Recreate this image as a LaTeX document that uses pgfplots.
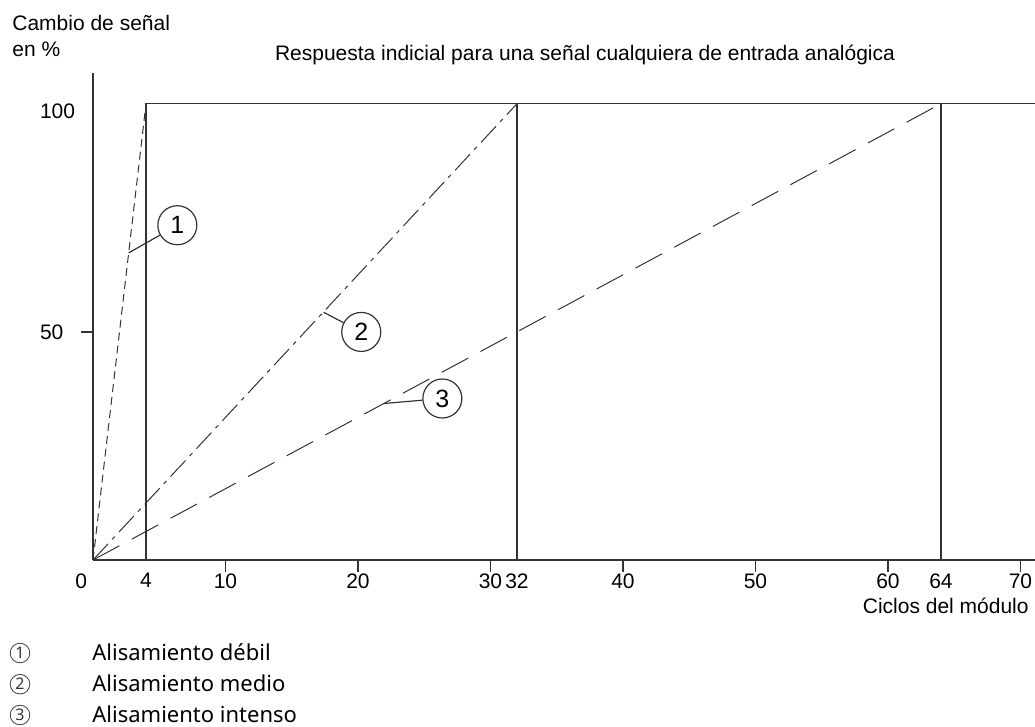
\documentclass[border=0pt]{standalone}
\usepackage{fontspec}
\setmainfont{Liberation Sans}
\newfontfamily\legendfont{Noto Sans}
\usepackage{pgfplots}
\pgfplotsset{compat=1.18}
\definecolor{ln}{gray}{0.2}
\begin{document}
\begin{tikzpicture}[font=\fontsize{10.5bp}{12.6bp}\selectfont]
\useasboundingbox (0,0) rectangle (517.5bp,363.5bp);
\begin{axis}[
  at={(46.5bp,83.5bp)}, anchor=south west,
  scale only axis, width=471bp, height=243.65bp,
  xmin=0, xmax=71.1, ymin=0, ymax=106.8,
  axis lines*=left,
  axis line style={line width=0.65pt, ln},
  xtick={10,20,...,70}, ytick={50},
  extra x ticks={0,4,32,64},
  extra x tick labels={\llap{0\kern3bp},4,32,64},
  extra x tick style={major tick style={draw=none}},
  extra y ticks={100}, extra y tick labels={100},
  extra y tick style={major tick style={draw=none}, yticklabel style={yshift=-4bp}},
  tick align=outside, major tick length=6bp,
  tick style={line width=0.65pt, ln},
  xticklabel style={inner sep=0.5bp},
  yticklabel style={anchor=west, xshift=-24bp},
  /pgf/number format/assume math mode=true,
  /pgf/number format/1000 sep={},
  clip=false,
]
\addplot[ln, line width=0.5pt, dash pattern=on 4bp off 2.5bp] coordinates {(0,0) (4,100)};
\addplot[ln, line width=0.5pt, dash pattern=on 11bp off 3bp on 2bp off 3bp] coordinates {(0,0) (32,100)};
\addplot[ln, line width=0.5pt, dash pattern=on 15bp off 7bp] coordinates {(0,0) (64,100)};
\addplot[ln, line width=0.65pt] coordinates {(4,0) (4,100) (71.1,100)};
\addplot[ln, line width=0.65pt] coordinates {(32,0) (32,100)};
\addplot[ln, line width=0.65pt] coordinates {(64,0) (64,100)};
\node[circle, draw=ln, line width=0.6pt, minimum size=19.5bp, inner sep=0pt, font=\fontsize{12.5bp}{14bp}\selectfont] (c1) at ([shift={(24.35bp,13.85bp)}]axis cs:2.69,67.3) {1};
\draw[ln, line width=0.6pt] (axis cs:2.69,67.3) -- (c1);
\node[circle, draw=ln, line width=0.6pt, minimum size=19.5bp, inner sep=0pt, font=\fontsize{12.5bp}{14bp}\selectfont] (c2) at ([shift={(18.85bp,-9.85bp)}]axis cs:17.4,54.3) {2};
\draw[ln, line width=0.6pt] (axis cs:17.4,54.3) -- (c2);
\node[circle, draw=ln, line width=0.6pt, minimum size=19.5bp, inner sep=0pt, font=\fontsize{12.5bp}{14bp}\selectfont] (c3) at ([shift={(29.2bp,2.5bp)}]axis cs:21.96,34.3) {3};
\draw[ln, line width=0.6pt] (axis cs:21.96,34.3) -- (c3);
\end{axis}
\node[anchor=base west, inner sep=0pt] at (6bp,348bp) {Cambio de señal};
\node[anchor=base west, inner sep=0pt] at (6bp,335bp) {en \%};
\node[anchor=base, inner sep=0pt] at (292.5bp,333.2bp) {Respuesta indicial para una señal cualquiera de entrada analógica};
\node[anchor=base east, inner sep=0pt] at (514.5bp,56.5bp) {Ciclos del módulo};
\foreach \n/\t/\b in {1/Alisamiento débil/33.2, 2/Alisamiento medio/17.6, 3/Alisamiento intenso/2.2}{
  \node[circle, draw=black!75, line width=0.4bp, minimum size=9.8bp, inner sep=0pt,
        font=\legendfont\fontsize{8bp}{9bp}\selectfont, text=black!80] at (10bp,\b bp+3.8bp) {\n};
  \node[anchor=base west, inner sep=0pt] at (46bp,\b bp) {\legendfont\fontsize{11bp}{13bp}\selectfont \t};
}
\end{tikzpicture}
\end{document}
